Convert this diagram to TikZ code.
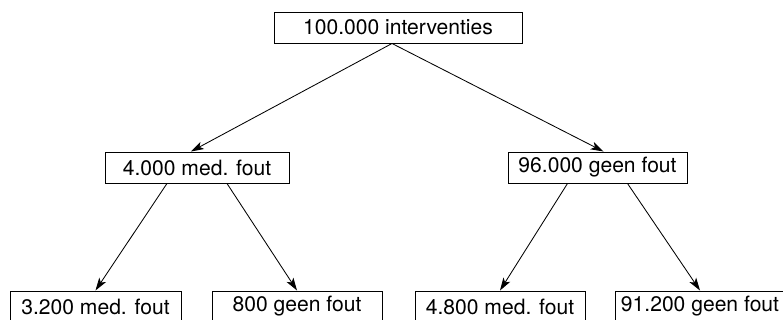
\documentclass[tikz,border=0pt]{standalone}
\usepackage{fontspec}
\setmainfont{TeX Gyre Heros}
\usetikzlibrary{arrows.meta,positioning}

\begin{document}
\begin{tikzpicture}
	[
	align=center,
	box/.style={rectangle,draw=black,line width=0.7pt,fill=none,minimum height=0.775cm,inner sep=0pt,
		font=\fontsize{15}{18}\selectfont},
	arrow/.style={
           -{Stealth[length=3.2mm,width=2mm,inset=0.8mm]},
           line width=0.6pt,}
	]
		\useasboundingbox (0,0) rectangle (19.575,8);
		
		% nodes
		\node[box,minimum width=6.2cm]   (n0) at 		( 9.95,   7.3125) {100.000 interventies};
		\node[box,minimum width=4.6cm]   (n1) at 		( 4.925,  3.8125) {4.000 med. fout};
		\node[box,minimum width=4.475cm] (n2) at 		(14.9375, 3.8125) {96.000 geen fout};
		\node[box,minimum width=4.275cm] (n11) at 		( 2.3875, 0.3375) {3.200 med. fout};
		\node[box,minimum width=4.25cm]  (n12) at 		( 7.425,  0.3375) {800 geen fout};
		\node[box,minimum width=4.25cm]  (n21) at 		(12.5,    0.3375) {4.800 med. fout};
		\node[box,minimum width=4.25cm]  (n22) at 		(17.5,    0.3375) {91.200 geen fout};
		
		% arrows from the top
		\draw[arrow] ([xshift=-0.15cm]n0.south) -- ([xshift=-0.15cm]n1.north);
		\draw[arrow] ([xshift=-0.15cm]n0.south) -- ([xshift=0.15cm]n2.north);
		
		% arrows to the bottom row
		\foreach \from/\to in {n1/n11,n2/n21} \draw[arrow] ([xshift=-0.75cm]\from.south) -- (\to.north);
		\foreach \from/\to in {n1/n12,n2/n22} \draw[arrow] ([xshift=0.75cm]\from.south) -- (\to.north);
		
	\end{tikzpicture}
\end{document}
